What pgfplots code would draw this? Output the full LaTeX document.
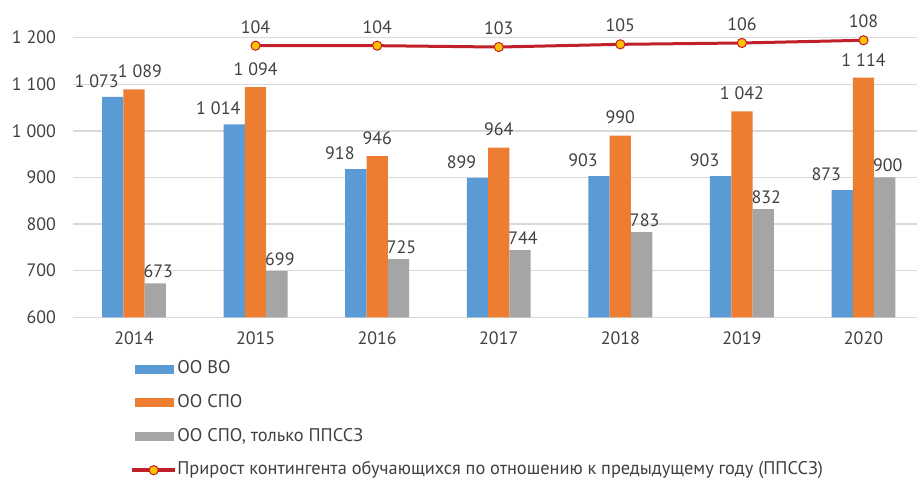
\documentclass[border=0pt]{standalone}
\usepackage{fontspec}
\setmainfont{PT Sans}
\usepackage{pgfplots}
\pgfplotsset{compat=1.18}
\definecolor{cblue}{HTML}{5B9BD5}
\definecolor{corange}{HTML}{ED7D31}
\definecolor{cgray}{HTML}{A5A5A5}
\definecolor{cred}{HTML}{C0202A}
\definecolor{cyel}{HTML}{FFC000}
\definecolor{ctext}{HTML}{404040}
\definecolor{cgrid}{HTML}{D9D9D9}
\newcommand{\fs}{\fontsize{18}{20}\selectfont}
\newcommand{\fl}{\fontsize{18.4}{20}\selectfont}
\pgfplotsset{/pgf/number format/assume math mode=true}
\begin{document}
\begin{tikzpicture}[x=1bp,y=1bp]
\useasboundingbox (-73.2,-163.7) rectangle (843.8,317.3);
\begin{axis}[
  at={(0,0)}, anchor=south west,
  scale only axis, width=843.8bp, height=317.3bp,
  xmin=-0.5, xmax=6.44, ymin=600, ymax=1280.8,
  clip=false,
  ybar=0pt, bar width=21.3bp,
  axis line style={draw=none},
  ymajorgrids, grid style={cgrid, line width=1.3bp},
  xtick={0,1,2,3,4,5,6}, xticklabels={2014,2015,2016,2017,2018,2019,2020},
  ytick={600,700,800,900,1000,1100,1200},
  major tick length=0pt, tick style={draw=none},
  ticklabel style={font=\fs, color=ctext},
  yticklabel style={anchor=east, inner sep=0pt, xshift=-17bp},
  xticklabel style={anchor=center, inner sep=0pt, yshift=-21.4bp},
  /pgf/number format/1000 sep={\hspace{0.28em}},
  nodes near coords,
  every node near coord/.append style={font=\fs, color=ctext, anchor=center, inner sep=0pt},
  legend cell align=left,
  legend style={draw=none, fill=none, at={(axis description cs:0,0)}, anchor=north west,
    xshift=55.8bp, yshift=-41.4bp, row sep=16.6bp, column sep=2.5bp,
    nodes={font=\fl, color=ctext, inner sep=0pt, text height=13bp, text depth=4bp}},
]
\addplot[fill=cblue, draw=none,
  every node near coord/.append style={xshift=-16bp, yshift=16bp},
  legend image code/.code={\fill[cblue] (0bp,-4.5bp) rectangle (39bp,4.5bp);}]
  coordinates {(0,1073)(1,1014)(2,918)(3,899)(4,903)(5,903)(6,873)};
\addlegendentry{ОО ВО}
\addplot[fill=corange, draw=none,
  visualization depends on={x \as \xv},
  every node near coord/.append style={yshift=18bp, xshift={6*(\xv<0.5)}},
  legend image code/.code={\fill[corange] (0bp,-4.5bp) rectangle (39bp,4.5bp);}]
  coordinates {(0,1089)(1,1094)(2,946)(3,964)(4,990)(5,1042)(6,1114)};
\addlegendentry{ОО СПО}
\addplot[fill=cgray, draw=none,
  every node near coord/.append style={xshift=3bp, yshift=12bp},
  legend image code/.code={\fill[cgray] (0bp,-4.5bp) rectangle (39bp,4.5bp);}]
  coordinates {(0,673)(1,699)(2,725)(3,744)(4,783)(5,832)(6,900)};
\addlegendentry{ОО СПО, только ППССЗ}
\addlegendimage{legend image code/.code={\fill[cred] (-2.3bp,-1.5bp) rectangle (40bp,1.5bp);
  \filldraw[fill=cyel, draw=cred, line width=1bp] (19bp,0bp) circle[radius=4.6bp];}}
\addlegendentry{Прирост контингента обучающихся по отношению к предыдущему году (ППССЗ)}
\end{axis}
\begin{axis}[
  at={(0,0)}, anchor=south west,
  scale only axis, width=843.8bp, height=317.3bp,
  xmin=-0.5, xmax=6.44, ymin=-97.2, ymax=137.85,
  hide axis, clip=false,
]
\addplot[cred, line width=3bp, mark=*, mark size=4.6bp,
  mark options={fill=cyel, draw=cred, line width=1bp},
  nodes near coords,
  every node near coord/.append style={font=\fs, color=ctext, anchor=center, inner sep=0pt, yshift=18.7bp}]
  coordinates {(1,104)(2,104)(3,103)(4,105)(5,106)(6,108)};
\end{axis}
\end{tikzpicture}
\end{document}
